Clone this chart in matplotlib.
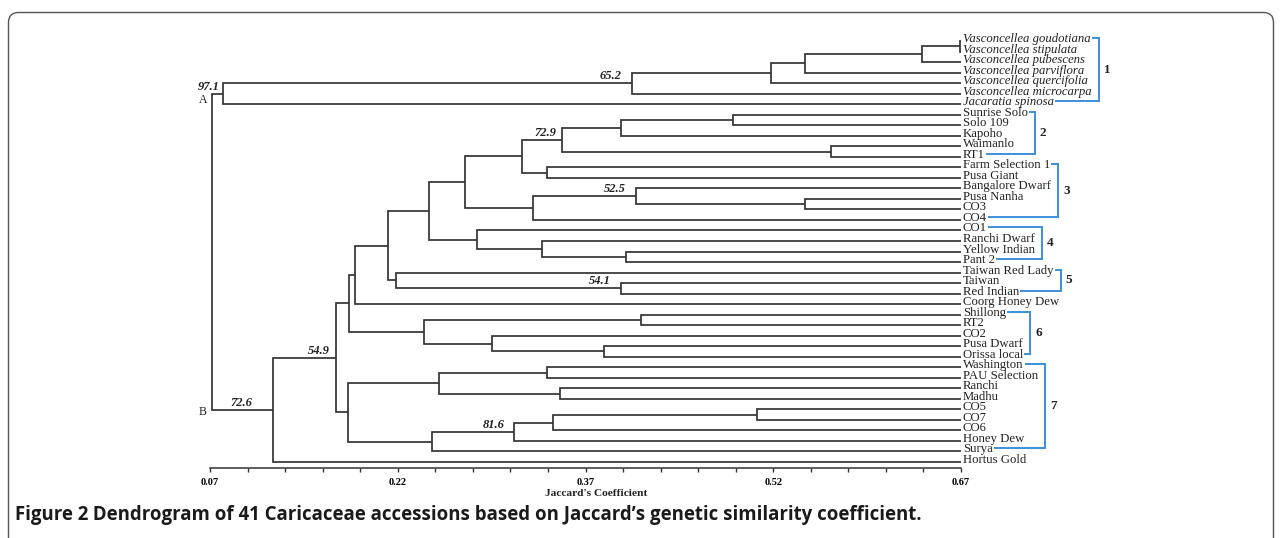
import matplotlib
matplotlib.use("Agg")
import matplotlib.pyplot as plt
from matplotlib.patches import FancyBboxPatch
from matplotlib.lines import Line2D
from matplotlib.transforms import IdentityTransform

# ---------------- data ----------------
leaf_labels = [
    "Vasconcellea goudotiana", "Vasconcellea stipulata", "Vasconcellea pubescens",
    "Vasconcellea parviflora", "Vasconcellea quercifolia", "Vasconcellea microcarpa",
    "Jacaratia spinosa",
    "Sunrise Solo", "Solo 109", "Kapoho", "Waimanlo", "RT1",
    "Farm Selection 1", "Pusa Giant", "Bangalore Dwarf", "Pusa Nanha", "CO3", "CO4",
    "CO1", "Ranchi Dwarf", "Yellow Indian", "Pant 2",
    "Taiwan Red Lady", "Taiwan", "Red Indian", "Coorg Honey Dew",
    "Shillong", "RT2", "CO2", "Pusa Dwarf", "Orissa local",
    "Washington", "PAU Selection", "Ranchi", "Madhu", "CO5", "CO7", "CO6",
    "Honey Dew", "Surya", "Hortus Gold",
]
italic_leaves = [0, 1, 2, 3, 4, 5, 6]

# merges: ids < 41 are leaves, new clusters numbered from 41 in order
merge_left = [0, 41, 42, 43, 44, 45,
              7, 47, 10, 48, 12, 50, 15, 14, 54, 52,
              20, 19, 18, 56, 23, 22, 60, 63,
              26, 29, 28, 65, 64,
              31, 33, 70, 35, 73, 74, 75, 72, 69, 78, 46]
merge_right = [1, 2, 3, 4, 5, 6,
               8, 9, 11, 49, 13, 51, 16, 53, 17, 55,
               21, 57, 58, 59, 24, 61, 62, 25,
               27, 30, 66, 67, 68,
               32, 34, 71, 36, 37, 38, 39, 76, 77, 40, 79]
merge_height = [0.669, 0.639, 0.545, 0.518, 0.407, 0.080,
                0.488, 0.398, 0.566, 0.351, 0.339, 0.319, 0.545, 0.410, 0.328, 0.274,
                0.402, 0.335, 0.283, 0.245, 0.398, 0.219, 0.212, 0.186,
                0.414, 0.385, 0.295, 0.241, 0.181,
                0.339, 0.350, 0.253, 0.507, 0.344, 0.313, 0.247, 0.180, 0.171, 0.120, 0.0715]

node_label_ids = [46, 45, 50, 54, 61, 78, 79, 75]
node_label_texts = ["97.1", "65.2", "72.9", "52.5", "54.1", "54.9", "72.6", "81.6"]
node_label_dx_px = [3, 10, 5, 10, 10, 7, 20, 10]

group_start = [0, 7, 12, 18, 22, 26, 31]
group_end = [6, 11, 17, 21, 24, 30, 39]
group_names = ["1", "2", "3", "4", "5", "6", "7"]

tick_values = [0.07, 0.10, 0.13, 0.16, 0.19, 0.22, 0.25, 0.28, 0.31, 0.34, 0.37,
               0.40, 0.43, 0.46, 0.49, 0.52, 0.55, 0.58, 0.61, 0.64, 0.67]
tick_labels = ["0.07", "", "", "", "", "0.22", "", "", "", "", "0.37",
               "", "", "", "", "0.52", "", "", "", "", "0.67"]

x_label = "Jaccard's Coefficient"
caption_bold = "Figure 2"
caption_rest = " Dendrogram of 41 Caricaceae accessions based on Jaccard\u2019s genetic similarity coefficient."

# ---------------- style ----------------
W, H = 1282, 538
LINE = "#333333"
BLUE = "#3b8fdb"
SERIF = "Liberation Serif"
PX = 72.0 / 100.0   # points per pixel

fig = plt.figure(figsize=(W / 100, H / 100), dpi=100)
fig.patch.set_facecolor("white")
ax = fig.add_axes([210 / W, (H - 468) / H, 751 / W, 433.3 / H])
ax.set_xlim(0.07, 0.67)
ax.set_ylim(40.57, -0.6)
for s in ("top", "right", "left"):
    ax.spines[s].set_visible(False)
ax.spines["bottom"].set_color(LINE)
ax.spines["bottom"].set_linewidth(1.1)
ax.set_yticks([])
ax.set_xticks(tick_values)
ax.set_xticklabels(tick_labels, fontfamily=SERIF, fontweight="bold", fontsize=7.5)
ax.tick_params(axis="x", direction="out", length=3, width=1, color=LINE, pad=4)
ax.set_facecolor("none")

# ---------------- dendrogram ----------------
n = len(leaf_labels)
xs = [0.67] * n
ys = [float(i) for i in range(n)]
for l, r, h in zip(merge_left, merge_right, merge_height):
    ax.plot([xs[l], h, h, xs[r]], [ys[l], ys[l], ys[r], ys[r]],
            color=LINE, lw=1.25, solid_joinstyle="miter", solid_capstyle="butt",
            clip_on=False)
    xs.append(h)
    ys.append((ys[l] + ys[r]) / 2)

leaf_texts = []
for i, lab in enumerate(leaf_labels):
    t = ax.annotate(lab, xy=(0.67, i), xytext=(2 * PX, -1 * PX), textcoords="offset points",
                    ha="left", va="baseline", fontfamily=SERIF, fontsize=9.2,
                    fontstyle="italic" if i in italic_leaves else "normal", color="#222222")
    leaf_texts.append(t)

for nid, txt, dx in zip(node_label_ids, node_label_texts, node_label_dx_px):
    ax.annotate(txt, xy=(xs[nid], ys[nid]), xytext=(-dx * PX, 4 * PX),
                textcoords="offset points", ha="right", va="baseline",
                fontfamily=SERIF, fontsize=9, fontweight="bold", fontstyle="italic",
                color="#222222")

root = len(xs) - 1
ax.annotate("A", xy=(xs[root], ys[46]), xytext=(-4 * PX, -6 * PX), textcoords="offset points",
            ha="right", va="center", fontfamily=SERIF, fontsize=8.5, color="#222222")
ax.annotate("B", xy=(xs[root], ys[79]), xytext=(-5 * PX, -2 * PX), textcoords="offset points",
            ha="right", va="center", fontfamily=SERIF, fontsize=8.5, color="#222222")

ax.text(0.514, -0.058, x_label, transform=ax.transAxes, ha="center", va="center",
        fontfamily=SERIF, fontweight="bold", fontsize=8.2, color="#222222")

# ---------------- brackets ----------------
fig.canvas.draw()
renderer = fig.canvas.get_renderer()
ident = IdentityTransform()
for s, e, name in zip(group_start, group_end, group_names):
    ext = [leaf_texts[i].get_window_extent(renderer) for i in range(s, e + 1)]
    xb = max(b.x1 for b in ext) + 7
    ytop = ax.transData.transform((0.67, s))[1] + 3
    ybot = ax.transData.transform((0.67, e))[1] + 3
    fig.add_artist(Line2D([ext[0].x1 + 2, xb, xb, ext[-1].x1 + 2], [ytop, ytop, ybot, ybot],
                          transform=ident, color=BLUE, lw=1.4, solid_joinstyle="miter"))
    fig.text(xb + 5, (ytop + ybot) / 2, name, transform=ident, ha="left", va="center",
             fontfamily=SERIF, fontweight="bold", fontsize=9.5, color="#222222")

# ---------------- caption & frame ----------------
frame = FancyBboxPatch((8.5, -40), W - 17, H - 12.5 + 40,
                       boxstyle="round,pad=0,rounding_size=10", transform=ident,
                       facecolor="none", edgecolor="#555555", lw=1.0)
fig.add_artist(frame)

cap_size = 13.4
cap_y = H - 515
t1 = fig.text(15, cap_y, caption_bold, transform=ident, ha="left", va="center",
              fontfamily="Open Sans", fontweight="bold", fontsize=cap_size, color="#1a1a1a")
fig.canvas.draw()
bb = t1.get_window_extent(fig.canvas.get_renderer())
fig.text(bb.x1, cap_y, caption_rest, transform=ident, ha="left", va="center",
         fontfamily="Open Sans", fontweight="bold", fontsize=cap_size, color="#1a1a1a")

fig.savefig("out.png", dpi=100)
